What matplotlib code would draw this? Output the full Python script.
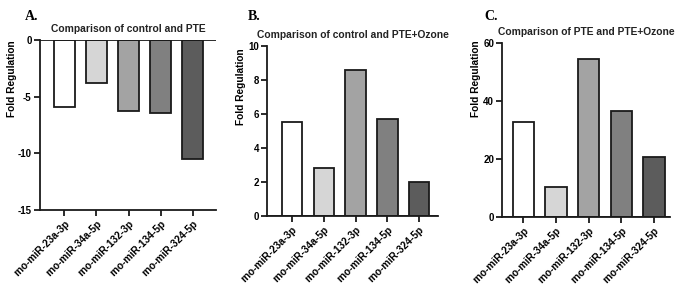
import matplotlib
matplotlib.use('Agg')
import matplotlib.pyplot as plt

# data
mirnas = ['rno-miR-23a-3p', 'rno-miR-34a-5p', 'rno-miR-132-3p', 'rno-miR-134-5p', 'rno-miR-324-5p']
fold_ctrl_pte = [-5.9, -3.75, -6.3, -6.4, -10.5]
fold_ctrl_pte_ozone = [5.5, 2.8, 8.6, 5.7, 2.0]
fold_pte_pte_ozone = [32.7, 10.5, 54.5, 36.7, 20.8]
bar_colors = ['#ffffff', '#d6d6d6', '#a3a3a3', '#808080', '#5c5c5c']

plt.rcParams['font.family'] = ['Liberation Sans', 'DejaVu Sans']

fig = plt.figure(figsize=(6.77, 2.9), dpi=100)

panels = [
    # letter, title, values, rect, ylim, yticks, xlim, letter x, ylabel x, ylabel y
    ('A.', 'Comparison of control and PTE', fold_ctrl_pte,
     [0.059, 0.276, 0.260, 0.586], (-15, 0), [-15, -10, -5, 0], (-0.76, 4.72), 0.037, 0.010, 0.728),
    ('B.', 'Comparison of control and PTE+Ozone', fold_ctrl_pte_ozone,
     [0.395, 0.256, 0.252, 0.585], (0, 10), [0, 2, 4, 6, 8, 10], (-0.78, 4.6), 0.366, 0.348, 0.700),
    ('C.', 'Comparison of PTE and PTE+Ozone', fold_pte_pte_ozone,
     [0.742, 0.252, 0.248, 0.599], (0, 60), [0, 20, 40, 60], (-0.64, 4.5), 0.716, 0.695, 0.728),
]

for letter, title, vals, rect, ylim, yticks, xlim, lx, ylx, yly in panels:
    ax = fig.add_axes(rect)
    x = list(range(len(mirnas)))
    ax.bar(x, vals, width=0.65, color=bar_colors, edgecolor='#1a1a1a', linewidth=1.3, zorder=3)
    ax.axhline(0, color='#1a1a1a', linewidth=1.3, zorder=4)
    ax.set_ylim(*ylim)
    ax.set_xlim(*xlim)
    ax.set_yticks(yticks)
    ax.set_yticklabels([str(t) for t in yticks], fontsize=7, fontweight='bold')
    ax.set_xticks(x)
    ax.set_xticklabels(mirnas, rotation=45, ha='right', rotation_mode='anchor',
                       fontsize=7.3, fontweight='bold')
    ax.spines['top'].set_visible(False)
    ax.spines['right'].set_visible(False)
    for s in ['left', 'bottom']:
        ax.spines[s].set_linewidth(1.3)
        ax.spines[s].set_color('#1a1a1a')
    ax.tick_params(axis='both', width=1.3, length=4, color='#1a1a1a', pad=2)
    ax.set_title(title, fontsize=7.4, fontweight='bold', pad=6, color='#222222')
    fig.text(ylx, yly, 'Fold Regulation', rotation=90,
             fontsize=7.3, fontweight='bold', ha='left', va='center')
    fig.text(lx, 0.965, letter, fontsize=10, fontweight='bold',
             family='Liberation Serif', ha='left', va='top')

fig.savefig('out.png', dpi=100)
